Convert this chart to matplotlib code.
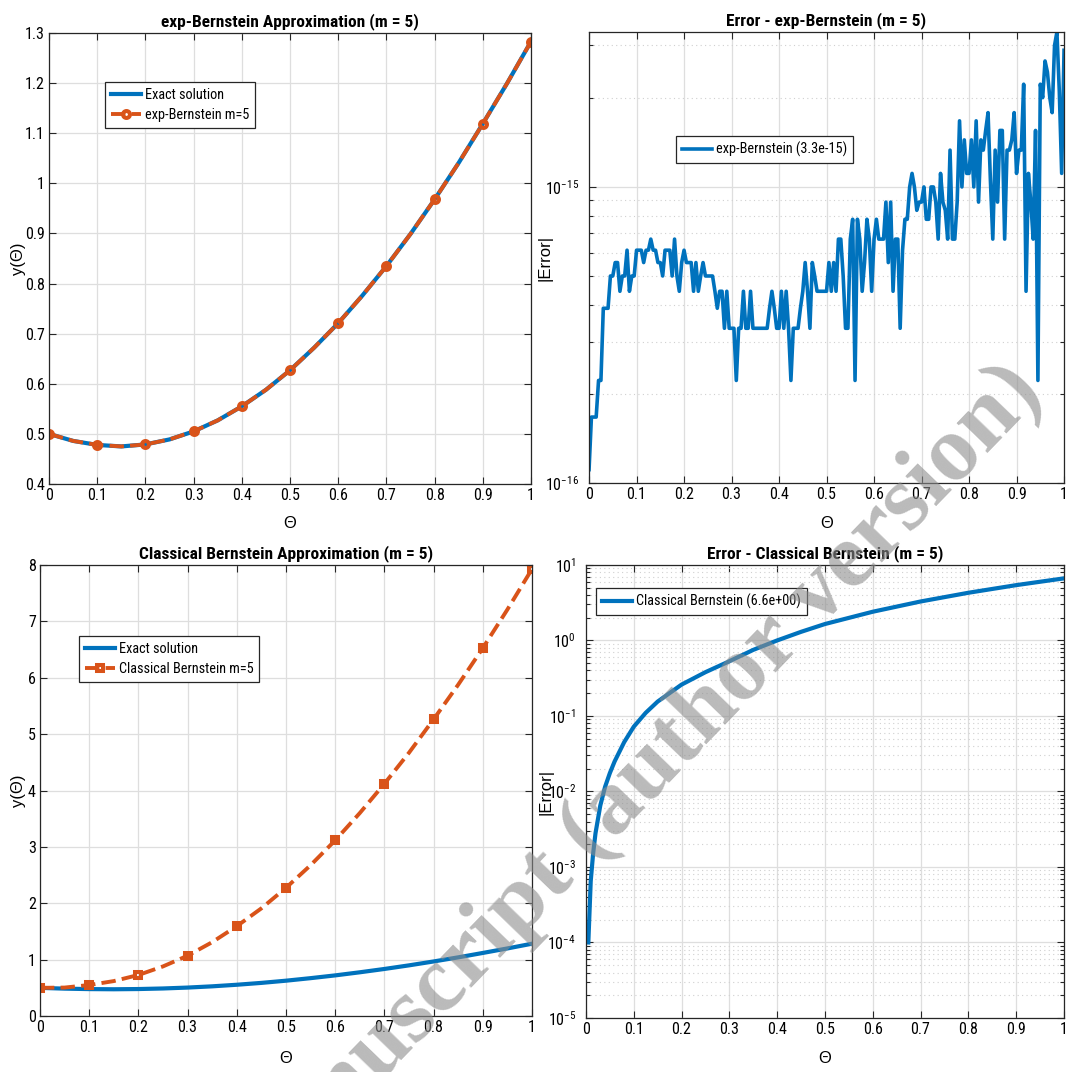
import numpy as np
import matplotlib
matplotlib.use('Agg')
import matplotlib.pyplot as plt
from matplotlib import font_manager
from matplotlib.ticker import FixedLocator, FuncFormatter, NullFormatter, LogLocator

# the text in the reference is narrow, so use a condensed sans if one is installed
names = {f.name for f in font_manager.fontManager.ttflist}
narrow = None
for cand in ['Liberation Sans Narrow', 'Roboto Condensed', 'Open Sans Condensed']:
    if cand in names:
        narrow = cand
        break
k = 1.0
if narrow is None:
    narrow = 'Liberation Sans'
    k = 0.85

plt.rcParams['font.family'] = [narrow, 'DejaVu Sans']
plt.rcParams['mathtext.default'] = 'regular'

# ---- data ----
theta = np.round(np.arange(21) * 0.05, 2)
exact = [0.500, 0.486, 0.478, 0.475, 0.479, 0.489, 0.505, 0.527, 0.555, 0.588, 0.627,
         0.672, 0.721, 0.776, 0.835, 0.899, 0.968, 1.041, 1.119, 1.199, 1.283]
exp_bern = [0.500, 0.486, 0.478, 0.475, 0.479, 0.489, 0.505, 0.527, 0.555, 0.588, 0.627,
            0.672, 0.721, 0.776, 0.835, 0.899, 0.968, 1.041, 1.119, 1.199, 1.283]
classical = [0.500, 0.505, 0.550, 0.620, 0.728, 0.880, 1.070, 1.310, 1.594, 1.910, 2.274,
             2.675, 3.116, 3.600, 4.120, 4.670, 5.263, 5.877, 6.526, 7.210, 7.928]

# |error| of exp-Bernstein on 201 points, in units of 1e-16
theta_e = np.linspace(0, 1, 201)
err_exp = np.array([
    1.11, 1.67, 1.67, 1.67, 2.22, 2.22, 3.89, 3.89, 3.89, 5.00,
    5.00, 5.55, 5.55, 4.44, 5.00, 5.00, 6.11, 4.44, 5.00, 5.00,
    6.11, 6.11, 6.11, 5.55, 6.11, 6.11, 6.66, 6.11, 6.11, 5.55,
    5.55, 5.00, 6.11, 6.11, 6.11, 5.00, 6.66, 5.00, 4.44, 5.55,
    6.11, 5.55, 5.55, 5.55, 4.44, 5.55, 4.44, 5.00, 5.55, 5.00,
    5.00, 5.00, 5.00, 4.44, 3.89, 4.44, 4.44, 3.33, 4.44, 3.33,
    3.33, 3.33, 2.22, 3.33, 3.33, 4.44, 3.33, 3.33, 4.44, 3.33,
    3.33, 3.33, 3.33, 3.33, 3.33, 3.33, 3.89, 4.44, 3.89, 3.33,
    3.33, 4.44, 3.33, 4.44, 3.33, 2.22, 3.33, 3.33, 3.33, 3.89,
    4.44, 5.55, 4.44, 3.33, 5.55, 5.00, 4.44, 4.44, 4.44, 4.44,
    4.44, 5.55, 4.44, 5.55, 4.44, 6.66, 6.66, 5.00, 3.33, 3.33,
    6.66, 7.77, 2.22, 7.77, 6.66, 4.44, 5.55, 7.77, 6.66, 4.44,
    6.66, 7.77, 6.66, 6.66, 6.66, 8.88, 5.55, 8.88, 4.44, 6.66,
    6.66, 3.33, 6.11, 7.77, 7.77, 9.99, 11.1, 9.99, 8.33, 8.88,
    8.88, 9.99, 7.77, 7.77, 9.99, 9.99, 8.88, 6.66, 11.1, 8.88,
    8.33, 6.66, 13.3, 6.66, 6.66, 8.88, 16.7, 9.99, 14.4, 11.1,
    11.1, 14.4, 9.99, 16.7, 8.88, 14.4, 13.3, 15.5, 17.8, 10.5,
    6.66, 13.3, 8.88, 15.5, 15.5, 6.66, 13.3, 13.3, 14.4, 17.8,
    11.1, 13.3, 13.3, 22.2, 4.44, 11.1, 8.88, 6.66, 15.5, 2.22,
    22.2, 20.0, 26.6, 24.4, 20.0, 17.8, 30.0, 33.3, 21.1, 11.1,
    28.9]) * 1e-16

# |error| of classical Bernstein
theta_c = [0.005, 0.01, 0.015, 0.02, 0.03, 0.04, 0.05, 0.06, 0.08, 0.1, 0.125, 0.15,
           0.2, 0.25, 0.3, 0.35, 0.4, 0.45, 0.5, 0.6, 0.7, 0.8, 0.9, 1.0]
err_cls = [1.0e-4, 6.5e-4, 1.5e-3, 2.8e-3, 6.5e-3, 1.15e-2, 1.75e-2, 2.5e-2, 4.5e-2,
           7.2e-2, 0.11, 0.155, 0.26, 0.38, 0.53, 0.75, 1.0, 1.3, 1.65, 2.4, 3.28,
           4.28, 5.4, 6.64]

blue = '#0072BD'
orange = '#D95319'
xt = np.round(np.arange(11) * 0.1, 1)

fig = plt.figure(figsize=(10.71, 10.72), dpi=100)
ax1 = fig.add_axes([0.0458, 0.5485, 0.450, 0.4207])
ax2 = fig.add_axes([0.550, 0.5494, 0.4435, 0.4207])
ax3 = fig.add_axes([0.0373, 0.0522, 0.4594, 0.4207])
ax4 = fig.add_axes([0.5471, 0.0504, 0.4463, 0.4226])

fmt = FuncFormatter(lambda v, p: '%g' % v)
logfmt = FuncFormatter(lambda v, p: '$10^{%d}$' % int(round(np.log10(v))))


def style(ax, log=False):
    ax.set_axisbelow(True)
    for s in ax.spines.values():
        s.set_color('#262626')
        s.set_linewidth(0.9)
    ax.tick_params(which='both', direction='in', top=True, right=True,
                   labelsize=11.5 * k, color='#262626', width=0.8, pad=3)
    ax.tick_params(which='major', length=5)
    ax.tick_params(which='minor', length=3)
    ax.set_xlim(0, 1)
    ax.xaxis.set_major_locator(FixedLocator(xt))
    ax.xaxis.set_major_formatter(fmt)
    ax.grid(True, which='major', color='#dedede', lw=0.9)
    if log:
        ax.set_yscale('log')
        ax.yaxis.set_major_locator(LogLocator(base=10, numticks=20))
        ax.yaxis.set_minor_locator(LogLocator(base=10, subs=np.arange(2, 10), numticks=20))
        ax.yaxis.set_major_formatter(logfmt)
        ax.yaxis.set_minor_formatter(NullFormatter())
        ax.tick_params(axis='y', which='both', pad=7)
        ax.grid(True, which='minor', axis='y', color='#d0d0d0', lw=0.8, ls=(0, (1, 3)))
    else:
        ax.yaxis.set_major_formatter(fmt)


def labels(ax, title, ylab, ypos, xpos):
    ax.set_title(title, fontsize=12.5 * k, fontweight='bold', pad=5)
    ax.set_xlabel('Θ', fontsize=12, family='Liberation Sans')
    ax.set_ylabel(ylab, fontsize=12, family='Liberation Sans')
    ax.xaxis.set_label_coords(0.5, xpos)
    ax.yaxis.set_label_coords(ypos, 0.5)


leg_kw = dict(fontsize=10.3 * k, fancybox=False, framealpha=1, edgecolor='#262626',
              borderaxespad=0, handlelength=2.1, handletextpad=0.3, borderpad=0.4,
              labelspacing=0.45)

# top left
style(ax1)
ax1.plot(theta, exact, color=blue, lw=3, label='Exact solution')
ax1.plot(theta, exp_bern, color=orange, lw=2.8, ls='--', marker='o', markevery=2,
         ms=5, mew=2.9, mfc='none', label='exp-Bernstein m=5')
ax1.set_ylim(0.4, 1.3)
ax1.yaxis.set_major_locator(FixedLocator(np.round(np.arange(4, 14) * 0.1, 1)))
labels(ax1, 'exp-Bernstein Approximation (m = 5)', 'y(Θ)', -0.048, -0.072)
lg = ax1.legend(loc='upper left', bbox_to_anchor=(0.116, 0.891), **leg_kw)
lg.get_frame().set_linewidth(0.9)

# top right
style(ax2, log=True)
ax2.plot(theta_e, err_exp, color=blue, lw=2.6,
         label='exp-Bernstein (%.1e)' % err_exp.max())
ax2.set_ylim(1e-16, err_exp.max())
labels(ax2, 'Error - exp-Bernstein (m = 5)', '|Error|', -0.076, -0.074)
lg = ax2.legend(loc='upper left', bbox_to_anchor=(0.183, 0.769), **leg_kw)
lg.get_frame().set_linewidth(0.9)

# bottom left
style(ax3)
ax3.plot(theta, exact, color=blue, lw=3, label='Exact solution')
ax3.plot(theta, classical, color=orange, lw=2.8, ls='--', marker='s', markevery=2,
         ms=5, mew=2.9, mfc='none', label='Classical Bernstein m=5')
ax3.set_ylim(0, 8)
ax3.yaxis.set_major_locator(FixedLocator(np.arange(0, 9)))
labels(ax3, 'Classical Bernstein Approximation (m = 5)', 'y(Θ)', -0.028, -0.078)
lg = ax3.legend(loc='upper left', bbox_to_anchor=(0.079, 0.843), **leg_kw)
lg.get_frame().set_linewidth(0.9)

# bottom right
style(ax4, log=True)
ax4.plot(theta_c, err_cls, color=blue, lw=3,
         label='Classical Bernstein (%.1e)' % max(err_cls))
ax4.set_ylim(1e-5, 1e1)
labels(ax4, 'Error - Classical Bernstein (m = 5)', '|Error|', -0.067, -0.073)
lg = ax4.legend(loc='upper left', bbox_to_anchor=(0.021, 0.949), **leg_kw)
lg.get_frame().set_linewidth(0.9)

# watermark
fig.text(0.96, 0.6465, 'Accepted manuscript (author version)', rotation=46,
         rotation_mode='anchor', ha='right', va='center', fontsize=68,
         fontweight='bold', family='Liberation Serif', color='#8c8c8c',
         alpha=0.6, zorder=10)

fig.savefig('out.png', dpi=100)
